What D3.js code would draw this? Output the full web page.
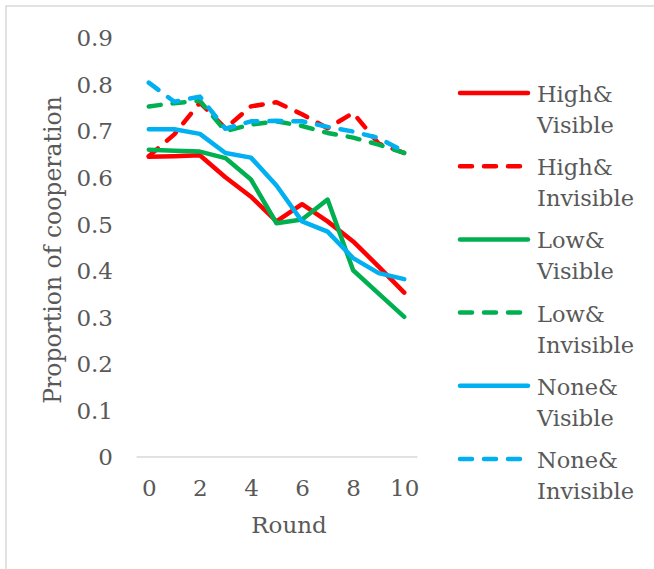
<!DOCTYPE html>
<html>
<head>
<meta charset="utf-8">
<script src="https://cdn.jsdelivr.net/npm/d3@7"></script>
<style>
	body { margin: 0; background: #fff; }
	text { font-family: "DejaVu Serif", serif; fill: #595959; }
</style>
</head>
<body>
<div class="chart"></div>
<script>
// rounds on the x axis
let rounds = [0, 1, 2, 3, 4, 5, 6, 7, 8, 9, 10];
let xTickLabels = [0, 2, 4, 6, 8, 10];
let yTickLabels = [0, 0.1, 0.2, 0.3, 0.4, 0.5, 0.6, 0.7, 0.8, 0.9];

let seriesNames = ["High&Visible", "High&Invisible", "Low&Visible", "Low&Invisible", "None&Visible", "None&Invisible"];
let highVisible = [0.644, 0.645, 0.647, 0.60, 0.558, 0.505, 0.542, 0.505, 0.462, 0.408, 0.352];
let highInvisible = [0.645, 0.692, 0.76, 0.705, 0.752, 0.761, 0.735, 0.705, 0.738, 0.672, 0.652];
let lowVisible = [0.659, 0.657, 0.655, 0.641, 0.595, 0.501, 0.509, 0.552, 0.40, 0.35, 0.30];
let lowInvisible = [0.752, 0.759, 0.764, 0.699, 0.713, 0.72, 0.71, 0.695, 0.685, 0.67, 0.652];
let noneVisible = [0.703, 0.703, 0.693, 0.652, 0.642, 0.582, 0.505, 0.483, 0.426, 0.394, 0.381];
let noneInvisible = [0.803, 0.762, 0.773, 0.704, 0.72, 0.721, 0.72, 0.708, 0.698, 0.684, 0.655];

let colors = ["#ff0000", "#ff0000", "#00b050", "#00b050", "#00b0f0", "#00b0f0"];
let dashed = [false, true, false, true, false, true];
let allValues = [highVisible, highInvisible, lowVisible, lowInvisible, noneVisible, noneInvisible];

let width = 654, height = 569;

let svg = d3.select(".chart")
	.append("svg")
	.attr("width", width)
	.attr("height", height);

// light frame on the left and top
svg.append("path")
	.attr("d", "M6,569 V6 H654")
	.attr("fill", "none")
	.attr("stroke", "#d9d9d9")
	.attr("stroke-width", 1.5);

let x = d3.scaleLinear().domain([-0.5, 10.5]).range([136, 417]);
let y = d3.scaleLinear().domain([0, 0.9]).range([456.5, 37.5]);

// y axis labels only
let yAxis = svg.append("g")
	.attr("transform", "translate(113,0)")
	.call(d3.axisLeft(y).tickValues(yTickLabels).tickSize(0).tickPadding(0)
		.tickFormat(d => d === 0 ? "0" : d3.format(".1f")(d)));
yAxis.select(".domain").remove();
yAxis.selectAll("text").attr("font-size", 23).attr("font-family", null).attr("dy", "0.36em");

// x axis
let xAxis = svg.append("g")
	.attr("transform", "translate(0," + y(0) + ")")
	.call(d3.axisBottom(x).tickValues(xTickLabels).tickSize(0).tickPadding(0));
xAxis.select(".domain").attr("stroke", "#d9d9d9").attr("stroke-width", 1.5);
xAxis.selectAll("text").attr("font-size", 23).attr("font-family", null).attr("y", 31).attr("dy", "0.36em");

svg.append("text")
	.attr("x", 289)
	.attr("y", 533)
	.attr("text-anchor", "middle")
	.attr("font-size", 23)
	.text("Round");

svg.append("text")
	.attr("transform", "translate(61,250) rotate(-90)")
	.attr("text-anchor", "middle")
	.attr("font-size", 23.5)
	.text("Proportion of cooperation");

let line = d3.line()
	.x((d, i) => x(rounds[i]))
	.y(d => y(d));

allValues.forEach(function(vals, i) {
	svg.append("path")
		.datum(vals)
		.attr("fill", "none")
		.attr("stroke", colors[i])
		.attr("stroke-width", 4.5)
		.attr("stroke-linejoin", "round")
		.attr("stroke-linecap", "round")
		.attr("stroke-dasharray", dashed[i] ? "12,12" : null)
		.attr("d", line);
});

// legend
let legend = svg.append("g");
seriesNames.forEach(function(name, i) {
	let ly = 93 + i * 73.2;
	let parts = name.split("&");
	legend.append("line")
		.attr("x1", 460).attr("x2", 528)
		.attr("y1", ly).attr("y2", ly)
		.attr("stroke", colors[i])
		.attr("stroke-width", 4.5)
		.attr("stroke-linecap", "round")
		.attr("stroke-dasharray", dashed[i] ? "12,12" : null);
	let t = legend.append("text")
		.attr("x", 537)
		.attr("y", ly + 9)
		.attr("font-size", 22.5);
	t.append("tspan").attr("x", 537).text(parts[0] + "&");
	t.append("tspan").attr("x", 537).attr("dy", 31).text(parts[1]);
});
</script>
</body>
</html>
